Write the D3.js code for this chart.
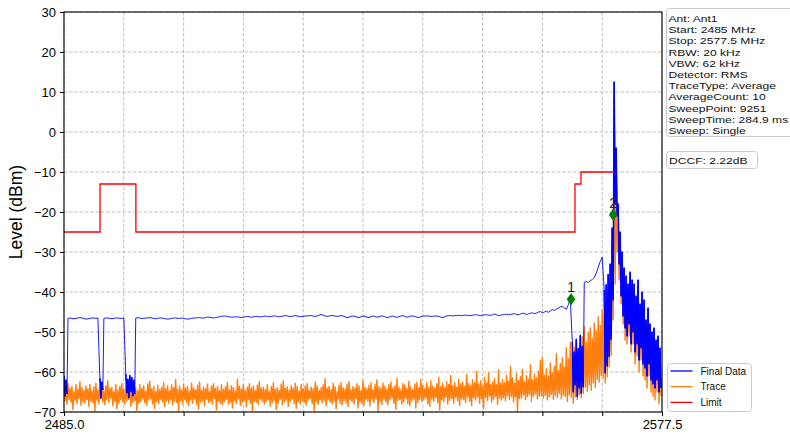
<!DOCTYPE html>
<html>
<head>
<meta charset="utf-8">
<script src="https://cdn.jsdelivr.net/npm/d3@7"></script>
<style>
  html, body { margin: 0; padding: 0; background: #fff; }
  svg { display: block; font-family: "Liberation Sans", Arial, sans-serif; }
</style>
</head>
<body>
<svg id="chart" width="790" height="437"></svg>
<script>
// Sweep span (MHz)
const sweepStart = 2485.0;
const sweepStop = 2577.5;

// Axis ticks
const xTickValues = [2485, 2494.25, 2503.5, 2512.75, 2522, 2531.25, 2540.5, 2549.75, 2559, 2568.25, 2577.5];
const xTickLabels = ["2485.0", "", "", "", "", "", "", "", "", "", "2577.5"];
const yTickValues = [30, 20, 10, 0, -10, -20, -30, -40, -50, -60, -70];

// Trace (dBm): per display bin, upper and lower excursion of the raw sweep
const traceHigh = [
  -63.8,-64.5,-62.9,-64.1,-63.6,-65.0,-63.2,-64.3,-62.4,-63.9,-64.6,-63.5,-64.2,-63.1,-64.8,-63.7,-62.8,-64.4,-63.9,-63.3,
  -64.7,-63.4,-62.2,-64.0,-63.8,-64.9,-63.1,-64.5,-63.6,-62.9,-64.3,-63.7,-65.1,-63.4,-64.1,-62.6,-63.9,-64.6,-63.2,-64.0,
  -63.5,-64.8,-63.0,-62.3,-64.2,-63.6,-64.9,-63.3,-64.4,-63.8,-62.7,-64.1,-63.5,-64.7,-63.2,-63.9,-61.9,-64.3,-63.6,-64.5,
  -63.1,-64.0,-63.7,-64.8,-62.8,-63.9,-64.4,-63.3,-62.5,-64.6,-63.8,-64.2,-63.0,-64.9,-63.5,-62.9,-64.1,-63.6,-64.7,-63.2,
  -64.3,-63.7,-62.6,-64.5,-63.4,-63.9,-64.8,-61.8,-63.6,-64.2,-63.1,-64.6,-63.8,-62.9,-64.0,-63.5,-64.7,-63.3,-62.4,-64.1,
  -63.8,-64.4,-63.2,-64.9,-63.6,-62.7,-64.3,-63.9,-64.6,-63.0,-62.2,-64.1,-63.7,-64.5,-63.4,-64.0,-62.8,-63.6,-64.8,-63.1,
  -64.2,-63.5,-62.9,-64.7,-63.8,-64.1,-62.5,-63.4,-64.6,-63.9,-63.2,-61.7,-64.0,-63.6,-64.4,-62.8,-63.7,-64.9,-63.3,-62.6,
  -63.9,-64.3,-63.0,-62.4,-64.5,-63.6,-64.0,-62.9,-63.5,-64.7,-62.1,-63.8,-64.2,-63.3,-62.7,-64.4,-63.1,-61.9,-63.7,-64.0,
  -62.8,-63.6,-64.3,-63.1,-62.5,-64.0,-63.4,-61.6,-63.8,-64.5,-62.9,-63.2,-64.1,-62.3,-63.7,-64.4,-63.0,-62.6,-63.9,-61.8,
  -63.3,-64.2,-62.7,-63.8,-62.2,-63.5,-64.0,-62.9,-61.4,-63.6,-62.8,-63.9,-62.4,-63.1,-60.9,-63.4,-62.6,-63.8,-61.8,-62.9,
  -62.5,-63.6,-60.6,-62.9,-63.3,-61.9,-62.7,-59.8,-63.0,-62.2,-63.5,-61.3,-62.6,-60.2,-63.1,-62.4,-61.7,-63.2,-59.4,-62.8,
  -61.9,-62.7,-60.8,-62.3,-58.6,-61.5,-62.8,-60.4,-62.1,-61.2,-59.3,-62.5,-60.9,-61.8,-58.2,-62.0,-60.5,-61.4,-59.8,-57.1,
  -56.3,-60.8,-59.2,-61.0,-57.8,-60.2,-58.6,-55.4,-59.7,-57.9,-56.4,-58.8,-53.9,-56.7,-52.6,-55.2,-53.8,-56.5,-54.1,-52.9,
  -51.2,-48.6,-52.4,-50.1,-48.9,-51.6,-47.8,-49.7,-46.2,-48.3,-44.5,-45.8,-47.2,-44.0,-42.5,-28.0,9.0,-9.0,-23.0,-29.0,
  -33,-37,-40,-41,-39,-40,-42,-44,-40,-46,-44,-45,-50,-47,-51,-52,-52,-55,-54,-57
];
const traceLow = [
  -67.2,-68.1,-66.8,-67.6,-69.4,-67.0,-67.9,-66.6,-68.3,-67.4,-67.8,-66.9,-68.6,-67.3,-67.7,-69.8,-67.1,-68.0,-66.7,-67.5,
  -68.2,-67.0,-67.6,-66.5,-68.4,-67.3,-69.2,-67.8,-66.9,-67.5,-68.0,-67.2,-66.8,-68.5,-67.6,-67.1,-69.6,-67.9,-67.4,-66.7,
  -67.7,-68.3,-67.0,-66.6,-68.0,-69.1,-67.4,-67.9,-66.8,-67.5,-68.6,-67.2,-67.8,-66.9,-68.2,-67.3,-67.6,-69.9,-67.1,-68.0,
  -66.9,-67.6,-68.4,-67.0,-67.8,-66.7,-68.1,-69.3,-67.5,-67.2,-68.5,-66.8,-67.7,-67.4,-68.0,-66.6,-69.5,-67.3,-67.9,-68.2,
  -67.4,-66.8,-68.0,-67.6,-69.0,-67.2,-67.9,-66.7,-68.4,-67.5,-67.1,-68.7,-66.9,-67.8,-69.7,-67.3,-67.6,-68.1,-66.8,-67.4,
  -68.0,-67.3,-66.9,-68.5,-67.6,-67.1,-69.4,-67.8,-66.7,-68.2,-67.5,-67.0,-68.6,-67.3,-66.8,-67.9,-69.1,-67.4,-68.0,-67.2,
  -67.6,-68.3,-67.0,-66.6,-67.9,-69.6,-67.4,-68.1,-66.9,-67.7,-67.2,-68.4,-66.8,-67.5,-68.0,-67.3,-69.2,-66.7,-67.8,-68.2,
  -67.1,-67.7,-68.6,-66.9,-67.4,-68.0,-66.6,-69.0,-67.5,-67.9,-68.3,-66.8,-67.3,-68.5,-67.0,-67.6,-66.7,-69.8,-67.4,-68.1,
  -66.8,-67.5,-68.2,-67.0,-66.5,-67.8,-69.3,-67.1,-66.9,-68.0,-67.4,-66.6,-67.9,-68.4,-67.2,-66.7,-69.0,-67.6,-66.8,-67.3,
  -67.0,-66.5,-67.9,-68.6,-66.8,-67.3,-66.4,-67.7,-69.5,-66.9,-67.4,-66.3,-68.0,-67.1,-66.6,-67.8,-66.4,-67.2,-68.3,-66.7,
  -66.9,-67.6,-66.2,-67.3,-68.4,-66.5,-67.0,-66.3,-67.8,-66.7,-69.2,-66.4,-67.1,-66.0,-67.5,-66.8,-66.2,-68.1,-66.6,-67.0,
  -66.4,-67.2,-65.9,-66.8,-66.1,-67.5,-66.3,-69.8,-66.6,-66.5,-65.7,-66.9,-66.2,-65.6,-67.4,-66.0,-65.5,-66.7,-66.1,-65.9,
  -66.5,-65.8,-67.0,-66.2,-65.6,-66.8,-65.9,-66.4,-65.3,-66.7,-65.8,-66.1,-67.3,-65.7,-66.4,-67.8,-66.2,-66.9,-65.7,-66.5,
  -65.4,-63.8,-64.9,-63.2,-64.6,-62.7,-63.9,-61.8,-62.5,-60.9,-61.5,-62.7,-61.2,-58.6,-55.9,-47.0,-38.0,-30.0,-37.0,-43.0,
  -48,-52,-53,-51,-55,-53,-58,-56,-60,-57,-61,-62,-64,-61,-65,-66,-67,-65,-68,-66
];

// Final Data (dBm): level per display bin
const finalLevel = [
  -61.0,-62.0,
  -46.6,-46.5,-46.6,-46.7,-46.6,-46.5,-46.4,-46.5,-46.6,-46.8,-46.7,-46.6,-46.5,-46.5,-46.6,-46.5,
  -61.5,-62.5,
  -46.6,-46.5,-46.5,-46.6,-46.7,-46.6,-46.5,-46.5,-46.6,-46.6,-46.5,
  -60.5,-61.8,-60.9,-61.4,-62.0,
  -46.5,-46.4,-46.5,-46.6,-46.6,-46.5,-46.5,-46.4,-46.5,-46.6,-46.7,-46.6,-46.5,-46.5,-46.6,-46.7,-46.8,-46.7,-46.6,-46.5,-46.5,-46.6,-46.6,-46.5,
  -46.6,-46.7,-46.8,-46.7,-46.6,-46.5,-46.5,-46.4,-46.4,-46.5,-46.5,-46.4,-46.3,-46.3,-46.4,-46.5,-46.4,-46.3,-46.2,-46.1,
  -46.0,-46.0,-46.1,-46.2,-46.3,-46.3,-46.2,-46.2,-46.3,-46.4,-46.3,-46.2,-46.1,-46.2,-46.3,-46.2,-46.1,-46.1,-46.2,-46.2,
  -46.1,-46.0,-46.1,-46.2,-46.1,-46.0,-46.0,-46.1,-46.2,-46.1,-46.0,-45.9,-46.0,-46.1,-46.1,-46.0,-45.9,-46.0,-46.1,-46.2,
  -46.1,-46.0,-46.0,-45.9,-45.9,-46.0,-46.1,-46.0,-45.8,-45.6,-45.8,-46.0,-46.1,-46.0,-45.9,-45.9,-46.0,-46.1,-46.0,-45.9,
  -46.0,-46.2,-46.4,-46.3,-46.1,-46.0,-46.1,-46.3,-46.4,-46.2,-46.0,-46.1,-46.3,-46.4,-46.2,-46.0,-46.1,-46.3,-46.2,-46.0,
  -46.0,-46.2,-46.4,-46.3,-46.1,-46.0,-46.2,-46.3,-46.2,-46.0,-45.9,-46.1,-46.3,-46.2,-46.0,-46.0,-46.1,-46.3,-46.4,-46.2,
  -46.0,-46.0,-46.0,-46.0,-46.1,-46.1,-46.0,-46.0,-46.1,-46.3,-46.4,-46.2,-46.0,-45.9,-45.9,-46.0,-45.9,-45.9,-45.8,-45.9,
  -45.9,-45.8,-45.8,-45.9,-45.9,-45.8,-45.7,-45.7,-45.8,-45.9,-45.8,-45.7,-45.7,-45.8,-45.8,-45.7,-45.5,-45.7,-45.9,-45.8,
  -45.7,-45.6,-45.6,-45.7,-45.6,-45.5,-45.4,-45.6,-45.7,-45.5,-45.3,-45.4,-45.6,-45.5,-45.3,-45.2,-45.4,-45.3,-45.0,-44.9,
  -45.2,-45.0,-44.8,-45.1,-44.7,-44.4,-44.6,-44.3,-44.0,-43.7,-43.6,-44.0,-44.3,-43.2,-41.8,
  -52.5,-55.0,-51.8,-54.2,-50.9,-53.6,
  -37.6,
  -37.4,-37.6,-37.2,-36.9,-36.4,-35.3,-33.8,-32.4,-31.3,
  -39.5,-38.2,-35.6,-33.0,
  -24.0,12.5,-4.0,-18.0,-25.0,
  -30,-34,-36,-38,-35,-37,-38,-41,-37,-43,-40,-42,-47,-44,-48,-50,-49,-52,-51,-54
];
// Final Data lower excursion for bins where the sweep is noisy: [bin, dBm]
const finalLowBins = [
  [0,-66.0],[1,-65.5],[18,-66.5],[19,-64.5],
  [31,-65.2],[32,-66.4],[33,-64.8],[34,-66.0],[35,-65.5],
  [255,-65.0],[256,-63.2],[257,-66.1],[258,-64.0],[259,-65.3],[260,-63.8],
  [271,-60.2],[272,-58.5],[273,-56.1],[274,-51.8],
  [275,-42],[276,-18],[277,-21],[278,-33],[279,-41],
  [280,-46],[281,-49],[282,-51],[283,-48],[284,-53],[285,-50],[286,-55],[287,-53],[288,-57],[289,-54],
  [290,-58],[291,-59],[292,-61],[293,-58],[294,-62],[295,-63],[296,-64],[297,-62],[298,-65],[299,-64]
];

// Limit line: band edges (MHz) and level (dBm) held from each edge to the next
const limitEdges = [2485.0, 2490.57, 2496.12, 2564.04, 2564.97, 2570.07];
const limitLevels = [-25, -13, -25, -13, -10];

// Markers
const markerNames = ["1", "2"];
const markerFreqs = [2563.43, 2569.95];
const markerLevels = [-41.8, -20.7];

// Legend and setting readouts
const legendNames = ["Final Data", "Trace", "Limit"];
const legendColors = ["#0000ff", "#ff7f0e", "#ff0000"];
const infoLines = [
  "Ant: Ant1", "Start: 2485 MHz", "Stop: 2577.5 MHz", "RBW: 20 kHz", "VBW: 62 kHz",
  "Detector: RMS", "TraceType: Average", "AverageCount: 10", "SweepPoint: 9251",
  "SweepTime: 284.9 ms", "Sweep: Single"
];
const dccfText = "DCCF: 2.22dB";

// ---------------------------------------------------------------
const svg = d3.select("#chart");
const plot = { left: 64, right: 662, top: 12, bottom: 412 };

const x = d3.scaleLinear().domain([sweepStart, sweepStop]).range([plot.left, plot.right]);
const y = d3.scaleLinear().domain([-70, 30]).range([plot.bottom, plot.top]);

const binCount = finalLevel.length;
const binWidth = (sweepStop - sweepStart) / binCount;
const binFreq = i => sweepStart + i * binWidth;

svg.append("defs").append("clipPath").attr("id", "plotClip")
  .append("rect")
  .attr("x", plot.left).attr("y", plot.top)
  .attr("width", plot.right - plot.left).attr("height", plot.bottom - plot.top);

// Grid
const grid = svg.append("g").attr("class", "grid");
grid.selectAll("line.v").data(xTickValues).join("line")
  .attr("x1", d => x(d)).attr("x2", d => x(d))
  .attr("y1", plot.top).attr("y2", plot.bottom)
  .attr("stroke", "#b0b0b0").attr("stroke-width", 0.8).attr("stroke-dasharray", "3.5,1.8");
grid.selectAll("line.h").data(yTickValues).join("line")
  .attr("x1", plot.left).attr("x2", plot.right)
  .attr("y1", d => y(d)).attr("y2", d => y(d))
  .attr("stroke", "#b0b0b0").attr("stroke-width", 0.8).attr("stroke-dasharray", "3.5,1.8");

const data = svg.append("g").attr("clip-path", "url(#plotClip)");
const line = d3.line().x(d => x(d[0])).y(d => y(d[1]));

// Trace: zig-zag through each bin's high and low excursion
const tracePts = [];
traceHigh.forEach((v, i) => {
  tracePts.push([binFreq(i), v]);
  tracePts.push([binFreq(i) + binWidth / 2, traceLow[i]]);
});
data.append("path").datum(tracePts)
  .attr("d", line).attr("fill", "none")
  .attr("stroke", "#ff7f0e").attr("stroke-width", 1.4).attr("stroke-linejoin", "round");

// Final Data: thin line overall, noisy stretches drawn as a denser band
const lowMap = new Map(finalLowBins);
const finalPts = [];
finalLevel.forEach((v, i) => {
  const noisy = lowMap.has(i);
  finalPts.push({ f: binFreq(i), v, noisy });
  if (noisy) finalPts.push({ f: binFreq(i) + binWidth / 2, v: lowMap.get(i), noisy });
});
const finalLine = d3.line().x(d => x(d.f)).y(d => y(d.v));
data.append("path").datum(finalPts)
  .attr("d", finalLine).attr("fill", "none")
  .attr("stroke", "#0000ff").attr("stroke-width", 0.9).attr("stroke-linejoin", "round");
data.append("path").datum(finalPts)
  .attr("d", d3.line().defined(d => d.noisy).x(d => x(d.f)).y(d => y(d.v)))
  .attr("fill", "none")
  .attr("stroke", "#0000ff").attr("stroke-width", 1.5).attr("stroke-linejoin", "round");

// Limit
const limitPts = limitLevels.map((v, i) => [limitEdges[i], v]);
limitPts.push([limitEdges[limitEdges.length - 1], limitLevels[limitLevels.length - 1]]);
data.append("path").datum(limitPts)
  .attr("d", d3.line().x(d => x(d[0])).y(d => y(d[1])).curve(d3.curveStepAfter))
  .attr("fill", "none").attr("stroke", "#ff0000").attr("stroke-width", 1.3);

// Markers
const markers = svg.append("g");
markerNames.forEach((name, i) => {
  const cx = x(markerFreqs[i]), cy = y(markerLevels[i]);
  markers.append("path")
    .attr("d", `M${cx},${cy - 6.2} L${cx + 4.3},${cy} L${cx},${cy + 6.2} L${cx - 4.3},${cy} Z`)
    .attr("fill", "#008000");
  markers.append("text")
    .attr("x", cx).attr("y", cy - 7)
    .attr("text-anchor", "middle")
    .attr("font-size", 14).attr("fill", "#222")
    .text(name);
});

// Axes
const yAxis = svg.append("g")
  .attr("transform", `translate(${plot.left},0)`)
  .call(d3.axisLeft(y).tickValues(yTickValues).tickSize(4).tickPadding(4));
const xAxis = svg.append("g")
  .attr("transform", `translate(0,${plot.bottom})`)
  .call(d3.axisBottom(x).tickValues(xTickValues)
    .tickFormat((d, i) => xTickLabels[i]).tickSize(4).tickPadding(4));
[yAxis, xAxis].forEach(g => {
  g.select(".domain").remove();
  g.selectAll(".tick line").attr("stroke", "#000").attr("stroke-width", 1);
  g.selectAll(".tick text")
    .attr("font-family", "Liberation Sans, Arial, sans-serif")
    .attr("font-size", 13).attr("fill", "#000");
});

// Frame
svg.append("rect")
  .attr("x", plot.left).attr("y", plot.top)
  .attr("width", plot.right - plot.left).attr("height", plot.bottom - plot.top)
  .attr("fill", "none").attr("stroke", "#000").attr("stroke-width", 1.1);

// Y label
svg.append("text")
  .attr("transform", `translate(22,212) rotate(-90)`)
  .attr("text-anchor", "middle")
  .attr("font-size", 17.5).attr("fill", "#000")
  .text("Level (dBm)");

// Settings readout box
svg.append("rect")
  .attr("x", 666.5).attr("y", 8.5).attr("width", 140).attr("height", 128)
  .attr("rx", 3).attr("fill", "#fff").attr("stroke", "#cccccc");
svg.append("g").selectAll("text").data(infoLines).join("text")
  .attr("transform", (d, i) => `translate(668.5,${22 + i * 11.2}) scale(1,0.8)`)
  .attr("font-size", 12.1).attr("fill", "#111")
  .text(d => d);

svg.append("rect")
  .attr("x", 666.5).attr("y", 151.5).attr("width", 91).attr("height", 17)
  .attr("rx", 3).attr("fill", "#fff").attr("stroke", "#cccccc");
svg.append("text")
  .attr("transform", `translate(669,164) scale(1,0.8)`)
  .attr("font-size", 12.1).attr("fill", "#111")
  .text(dccfText);

// Legend
const legend = svg.append("g");
legend.append("rect")
  .attr("x", 667.5).attr("y", 363.5).attr("width", 84).attr("height", 48)
  .attr("rx", 3).attr("fill", "#fff").attr("stroke", "#cccccc");
legendNames.forEach((name, i) => {
  const ly = 371 + i * 15.7;
  legend.append("line")
    .attr("x1", 670.5).attr("x2", 692.5).attr("y1", ly).attr("y2", ly)
    .attr("stroke", legendColors[i]).attr("stroke-width", 1.3);
  legend.append("text")
    .attr("x", 700.5).attr("y", ly + 3.6)
    .attr("font-size", 10).attr("fill", "#111")
    .text(name);
});
</script>
</body>
</html>
